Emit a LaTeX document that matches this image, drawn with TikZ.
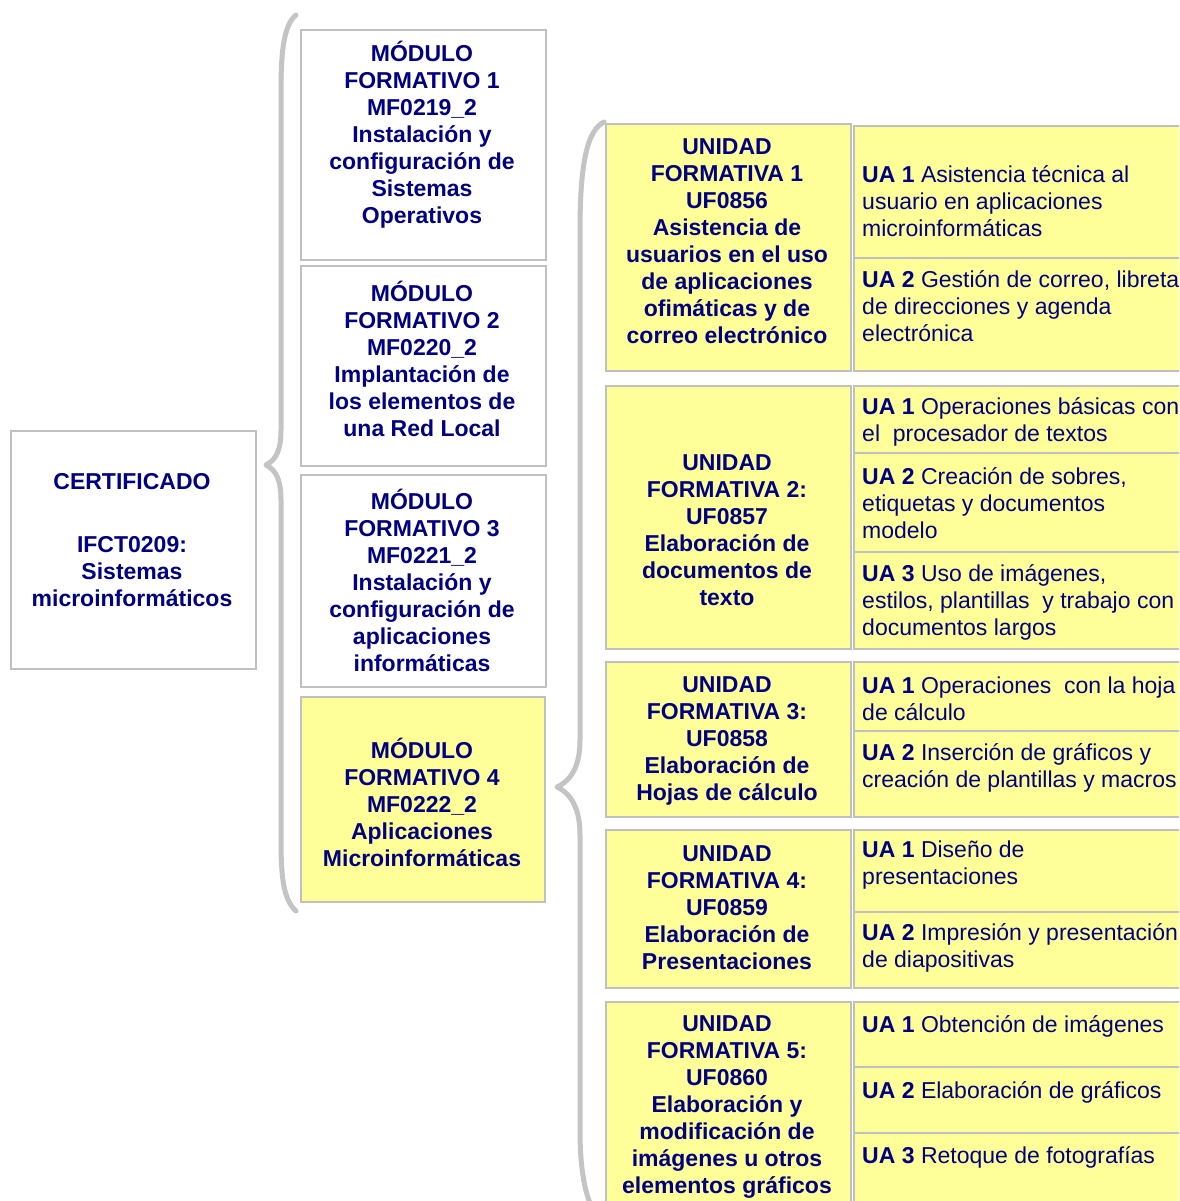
\documentclass[tikz,border=0pt]{standalone}
\usepackage{fontspec}
\setmainfont{Liberation Sans}
\definecolor{navy}{RGB}{0,0,128}
\definecolor{bordergray}{RGB}{192,192,192}
\definecolor{bracegray}{RGB}{196,196,196}
\definecolor{lightyellow}{RGB}{255,255,153}
\begin{document}
\begin{tikzpicture}[x=1pt,y=-1pt,
  box/.style={draw=bordergray, line width=2pt, inner sep=0pt, anchor=north west},
  tb/.style={font=\fontsize{23}{27}\selectfont\bfseries, text=navy, align=center, inner sep=0pt, yshift=-2pt},
  ua/.style={font=\fontsize{23}{27}\selectfont, text=navy, align=left, anchor=west, inner sep=0pt, yshift=-1.5pt},
  brace/.style={draw=bracegray, line width=5pt, line cap=round, line join=round}]
\useasboundingbox (0,0) rectangle (1179,1201);
\clip (0,0) rectangle (1179,1201);
\fill[white] (0,0) rectangle (1179,1201);

% left column
\node[box, fill=white, minimum width=245pt, minimum height=238pt] (cert) at (10,430) {};
\node[tb] (certt) at (132,538) {CERTIFICADO\\[36pt]IFCT0209:\\Sistemas\\microinformáticos};

% modules
\node[box, fill=white, minimum width=245pt, minimum height=230pt] (mf1) at (300,29) {};
\node[box, fill=white, minimum width=245pt, minimum height=200pt] (mf2) at (300,265) {};
\node[box, fill=white, minimum width=245pt, minimum height=212pt] (mf3) at (300,474) {};
\node[box, fill=lightyellow, minimum width=244pt, minimum height=205pt] (mf4) at (300,696) {};
\node[tb] (mf1t) at (422,133) {MÓDULO\\FORMATIVO 1\\MF0219\_2\\Instalación y\\configuración de\\Sistemas\\Operativos};
\node[tb] (mf2t) at (422,357) {MÓDULO\\FORMATIVO 2\\MF0220\_2\\Implantación de\\los elementos de\\una Red Local};
\node[tb] (mf3t) at (422,578) {MÓDULO\\FORMATIVO 3\\MF0221\_2\\Instalación y\\configuración de\\aplicaciones\\informáticas};
\node[tb] (mf4t) at (422,800) {MÓDULO\\FORMATIVO 4\\MF0222\_2\\Aplicaciones\\Microinformáticas};

% unidades formativas
\node[box, fill=lightyellow, minimum width=245pt, minimum height=247pt] (uf1) at (605,123) {};
\node[box, fill=lightyellow, minimum width=245pt, minimum height=263pt] (uf2) at (605,385) {};
\node[box, fill=lightyellow, minimum width=245pt, minimum height=155pt] (uf3) at (605,661) {};
\node[box, fill=lightyellow, minimum width=245pt, minimum height=158pt] (uf4) at (605,829) {};
\node[box, fill=lightyellow, minimum width=245pt, minimum height=214pt] (uf5) at (605,1001) {};
\node[tb] (uf1t) at (727,239) {UNIDAD\\FORMATIVA 1\\UF0856\\Asistencia de\\usuarios en el uso\\de aplicaciones\\ofimáticas y de\\correo electrónico};
\node[tb] (uf2t) at (727,528) {UNIDAD\\FORMATIVA 2:\\UF0857\\Elaboración de\\documentos de\\texto};
\node[tb] (uf3t) at (727,739) {UNIDAD\\FORMATIVA 3:\\UF0858\\Elaboración de\\Hojas de cálculo};
\node[tb] (uf4t) at (727,906) {UNIDAD\\FORMATIVA 4:\\UF0859\\Elaboración de\\Presentaciones};
\node[tb] (uf5t) at (727,1105) {UNIDAD\\FORMATIVA 5:\\UF0860\\Elaboración y\\modificación de\\imágenes u otros\\elementos gráficos};

% unidades de aprendizaje
\node[box, fill=lightyellow, minimum width=337pt, minimum height=132pt] (ua11) at (853,125) {};
\node[box, fill=lightyellow, minimum width=337pt, minimum height=113pt] (ua12) at (853,257) {};
\node[box, fill=lightyellow, minimum width=337pt, minimum height=67pt] (ua21) at (853,385) {};
\node[box, fill=lightyellow, minimum width=337pt, minimum height=99pt] (ua22) at (853,452) {};
\node[box, fill=lightyellow, minimum width=337pt, minimum height=97pt] (ua23) at (853,551) {};
\node[box, fill=lightyellow, minimum width=337pt, minimum height=69pt] (ua31) at (853,661) {};
\node[box, fill=lightyellow, minimum width=337pt, minimum height=86pt] (ua32) at (853,730) {};
\node[box, fill=lightyellow, minimum width=337pt, minimum height=82pt] (ua41) at (853,829) {};
\node[box, fill=lightyellow, minimum width=337pt, minimum height=76pt] (ua42) at (853,911) {};
\node[box, fill=lightyellow, minimum width=337pt, minimum height=65pt] (ua51) at (853,1001) {};
\node[box, fill=lightyellow, minimum width=337pt, minimum height=66pt] (ua52) at (853,1066) {};
\node[box, fill=lightyellow, minimum width=337pt, minimum height=83pt] (ua53) at (853,1132) {};

\node[ua] (ua11t) at (862,200) {\textbf{UA 1} Asistencia técnica al\\usuario en aplicaciones\\microinformáticas};
\node[ua] (ua12t) at (862,305) {\textbf{UA 2} Gestión de correo, libreta\\de direcciones y agenda\\electrónica};
\node[ua] (ua21t) at (862,420) {\textbf{UA 1} Operaciones básicas con\\el\ \ procesador de textos};
\node[ua] (ua22t) at (862,502) {\textbf{UA 2} Creación de sobres,\\etiquetas y documentos\\modelo};
\node[ua] (ua23t) at (862,601) {\textbf{UA 3} Uso de imágenes,\\estilos, plantillas\ \ y trabajo con\\documentos largos};
\node[ua] (ua31t) at (862,697) {\textbf{UA 1} Operaciones\ \ con la hoja\\de cálculo};
\node[ua] (ua32t) at (862,766) {\textbf{UA 2} Inserción de gráficos y\\creación de plantillas y macros};
\node[ua] (ua41t) at (862,864) {\textbf{UA 1} Diseño de\\presentaciones};
\node[ua] (ua42t) at (862,946) {\textbf{UA 2} Impresión y presentación\\de diapositivas};
\node[ua] (ua51t) at (862,1025) {\textbf{UA 1} Obtención de imágenes};
\node[ua] (ua52t) at (862,1091) {\textbf{UA 2} Elaboración de gráficos};
\node[ua] (ua53t) at (862,1156) {\textbf{UA 3} Retoque de fotografías};

% braces
\draw[brace] (296,15) .. controls (284,25) and (281,50) .. (281,90) -- (281,430)
  .. controls (281,450) and (276,460) .. (266,465)
  .. controls (276,470) and (281,480) .. (281,500) -- (281,840)
  .. controls (281,880) and (284,900) .. (296,911);
\draw[brace] (604,122) .. controls (588,130) and (580,160) .. (580,230) -- (580,740)
  .. controls (580,765) and (572,780) .. (557,787)
  .. controls (572,794) and (580,810) .. (580,835) -- (580,1130)
  .. controls (580,1180) and (588,1210) .. (604,1225);
\end{tikzpicture}
\end{document}
